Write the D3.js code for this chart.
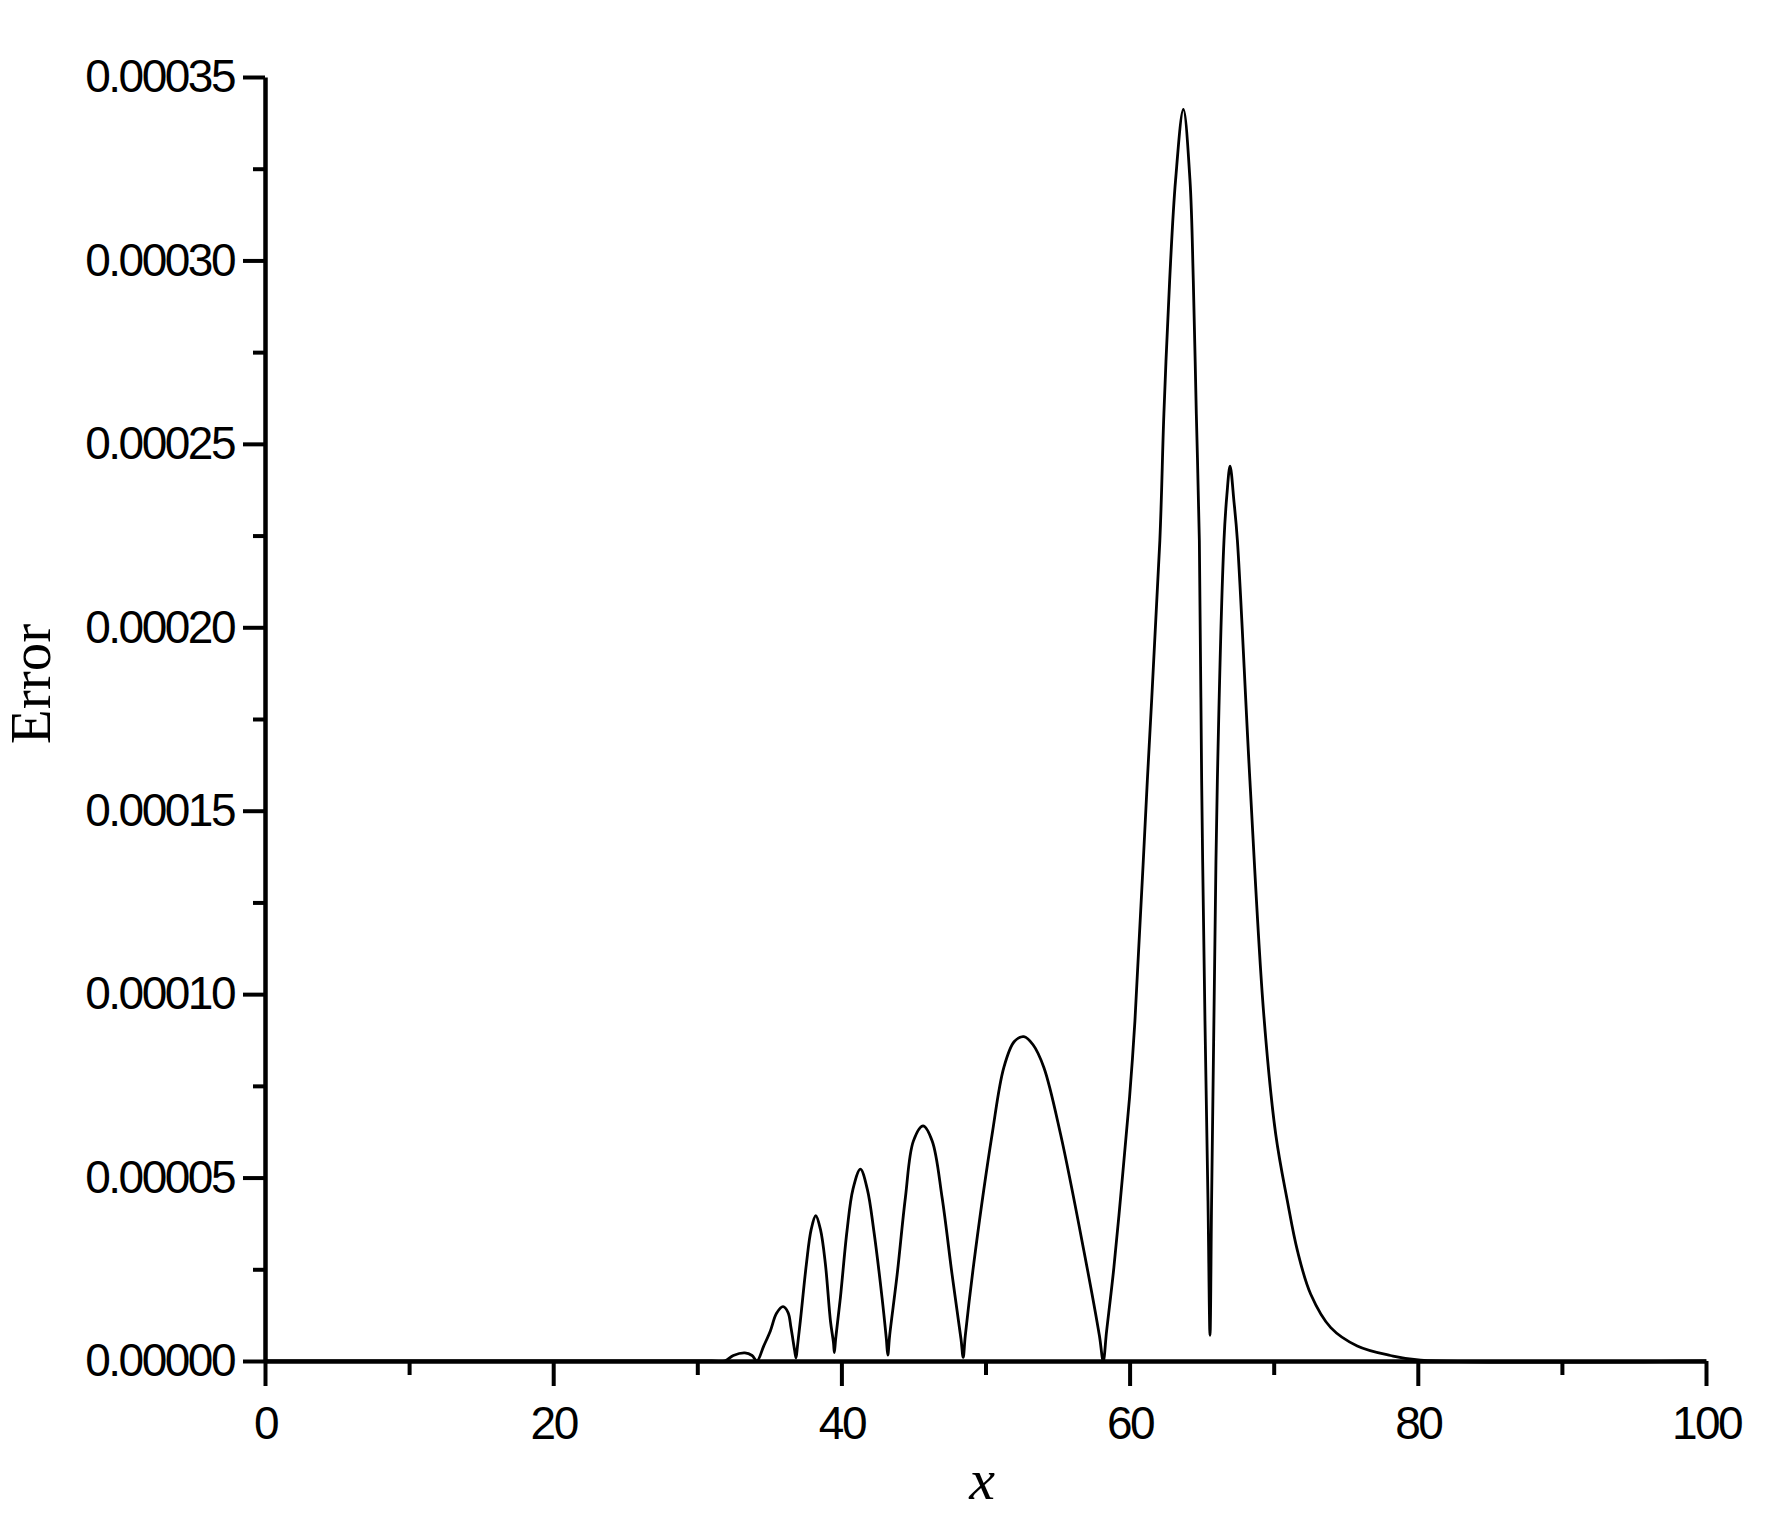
<!DOCTYPE html>
<html>
<head>
<meta charset="utf-8">
<script src="https://cdn.jsdelivr.net/npm/d3@7/dist/d3.min.js"></script>
<style>
  body { margin: 0; background: #fff; }
  svg { display: block; }
  .tick text { font-family: "Liberation Sans", Arial, sans-serif; font-size: 46px; letter-spacing: -2.5px; fill: #000; }
</style>
</head>
<body>
<div id="chart"></div>
<script>
(function() {
    const width = 1778,
          height = 1524;

    // x positions
    const xValues = [0, 31.0, 31.9, 32.5, 33.3, 33.8, 34.14, 34.6, 35.07, 35.5, 35.95, 36.3, 36.5, 36.75, 36.85, 36.95,
        37.15, 37.57, 37.9, 38.22, 38.55, 38.89, 39.24, 39.45, 39.51, 39.6, 39.93, 40.39, 40.8, 41.32, 41.8,
        42.25, 42.82, 43.12, 43.22, 43.35, 43.87, 44.44, 45.0, 45.67, 46.3, 46.99, 47.68, 48.3, 48.45, 48.6,
        49.3, 50.46, 51.27, 52.0, 52.66, 53.3, 54.05, 55.21, 56.83, 57.9, 58.17, 58.4, 58.91, 59.5, 60.0, 60.37,
        61.23, 62.1, 62.38, 62.78, 63.19, 63.73, 64.19, 64.42, 64.63, 64.84, 65.0, 65.23, 65.44, 65.58, 65.69,
        65.85, 66.09, 66.55, 66.75, 66.97, 67.25, 67.48, 68.35, 69.3, 70.14, 70.95, 71.65, 72.57, 73.96, 75.8,
        78.1, 80.2, 100];
    // error values
    const errValues = [0, 0, 0, 1.5e-6, 2.2e-6, 1.5e-6, 0, 4e-6, 8.2e-6, 1.3e-5, 1.48e-5, 1.32e-5, 9.1e-6, 3e-6, 8e-7, 4e-6,
        1.09e-5, 2.64e-5, 3.58e-5, 3.96e-5, 3.58e-5, 2.64e-5, 1.09e-5, 5e-6, 2.3e-6, 6e-6, 1.73e-5, 3.55e-5, 4.68e-5, 5.23e-5, 4.68e-5,
        3.55e-5, 1.73e-5, 6e-6, 1.6e-6, 7e-6, 2.36e-5, 4.45e-5, 6.0e-5, 6.41e-5, 6.0e-5, 4.45e-5, 2.36e-5, 6e-6, 1e-6, 7e-6,
        3.0e-5, 6.18e-5, 8.0e-5, 8.71e-5, 8.84e-5, 8.62e-5, 8.0e-5, 6.18e-5, 3.0e-5, 7e-6, 0, 8e-6, 2.55e-5, 5.0e-5, 7.2e-5, 9.27e-5,
        1.582e-4, 2.237e-4, 2.582e-4, 2.946e-4, 3.219e-4, 3.412e-4, 3.219e-4, 2.946e-4, 2.582e-4, 2.237e-4, 1.582e-4, 9.27e-5, 4.36e-5, 7e-6, 4.36e-5,
        9.27e-5, 1.582e-4, 2.237e-4, 2.36e-4, 2.439e-4, 2.34e-4, 2.237e-4, 1.582e-4, 9.5e-5, 6.18e-5, 4.36e-5, 3.0e-5, 1.82e-5, 9.1e-6, 4.1e-6,
        1.5e-6, 2e-7, 0];

    const xTicks = [0, 20, 40, 60, 80, 100];
    const xMinorTicks = [10, 30, 50, 70, 90];
    const yTicks = [0, 0.00005, 0.0001, 0.00015, 0.0002, 0.00025, 0.0003, 0.00035];
    const yMinorTicks = [0.000025, 0.000075, 0.000125, 0.000175, 0.000225, 0.000275, 0.000325];

    const data = xValues.map((x, i) => ({ x: x, err: errValues[i] }));

    const svg = d3.select("#chart")
        .append("svg")
        .attr("width", width)
        .attr("height", height);

    const xScale = d3.scaleLinear().domain([0, 100]).range([265, 1706]);
    const yScale = d3.scaleLinear().domain([0, 0.00035]).range([1361, 77]);

    // the curve
    const line = d3.line()
        .x(d => xScale(d.x))
        .y(d => yScale(d.err))
        .curve(d3.curveCatmullRom.alpha(0.5));

    svg.append("path")
        .datum(data)
        .attr("d", line)
        .attr("fill", "none")
        .attr("stroke", "#000")
        .attr("stroke-width", 2.8)
        .attr("stroke-linejoin", "round");

    // minor ticks first, major axis on top
    svg.append("g")
        .attr("transform", `translate(0,${yScale(0)})`)
        .call(d3.axisBottom(xScale).tickValues(xMinorTicks).tickSize(14).tickSizeOuter(0).tickFormat(""))
        .call(g => g.select(".domain").remove());

    svg.append("g")
        .attr("transform", `translate(${xScale(0)},0)`)
        .call(d3.axisLeft(yScale).tickValues(yMinorTicks).tickSize(12).tickSizeOuter(0).tickFormat(""))
        .call(g => g.select(".domain").remove());

    const xAxis = svg.append("g")
        .attr("transform", `translate(0,${yScale(0)})`)
        .call(d3.axisBottom(xScale).tickValues(xTicks).tickSize(25).tickSizeOuter(0).tickPadding(20).tickFormat(d3.format("d")));

    const yAxis = svg.append("g")
        .attr("transform", `translate(${xScale(0)},0)`)
        .call(d3.axisLeft(yScale).tickValues(yTicks).tickSize(22).tickSizeOuter(0).tickPadding(9).tickFormat(d3.format(".5f")));

    svg.selectAll(".domain").attr("stroke", "#000").attr("stroke-width", 4.5);
    svg.selectAll(".tick line").attr("stroke", "#000").attr("stroke-width", 4);
    svg.selectAll(".tick text").attr("fill", "#000");

    // axis titles
    svg.append("text")
        .attr("transform", "translate(50,684) rotate(-90)")
        .attr("text-anchor", "middle")
        .style("font-family", "'Liberation Serif', 'Times New Roman', serif")
        .style("font-size", "57px")
        .text("Error");

    svg.append("text")
        .attr("x", 982)
        .attr("y", 1499)
        .attr("text-anchor", "middle")
        .style("font-family", "'Liberation Serif', 'Times New Roman', serif")
        .style("font-style", "italic")
        .style("font-size", "58px")
        .text("x");
})();
</script>
</body>
</html>
